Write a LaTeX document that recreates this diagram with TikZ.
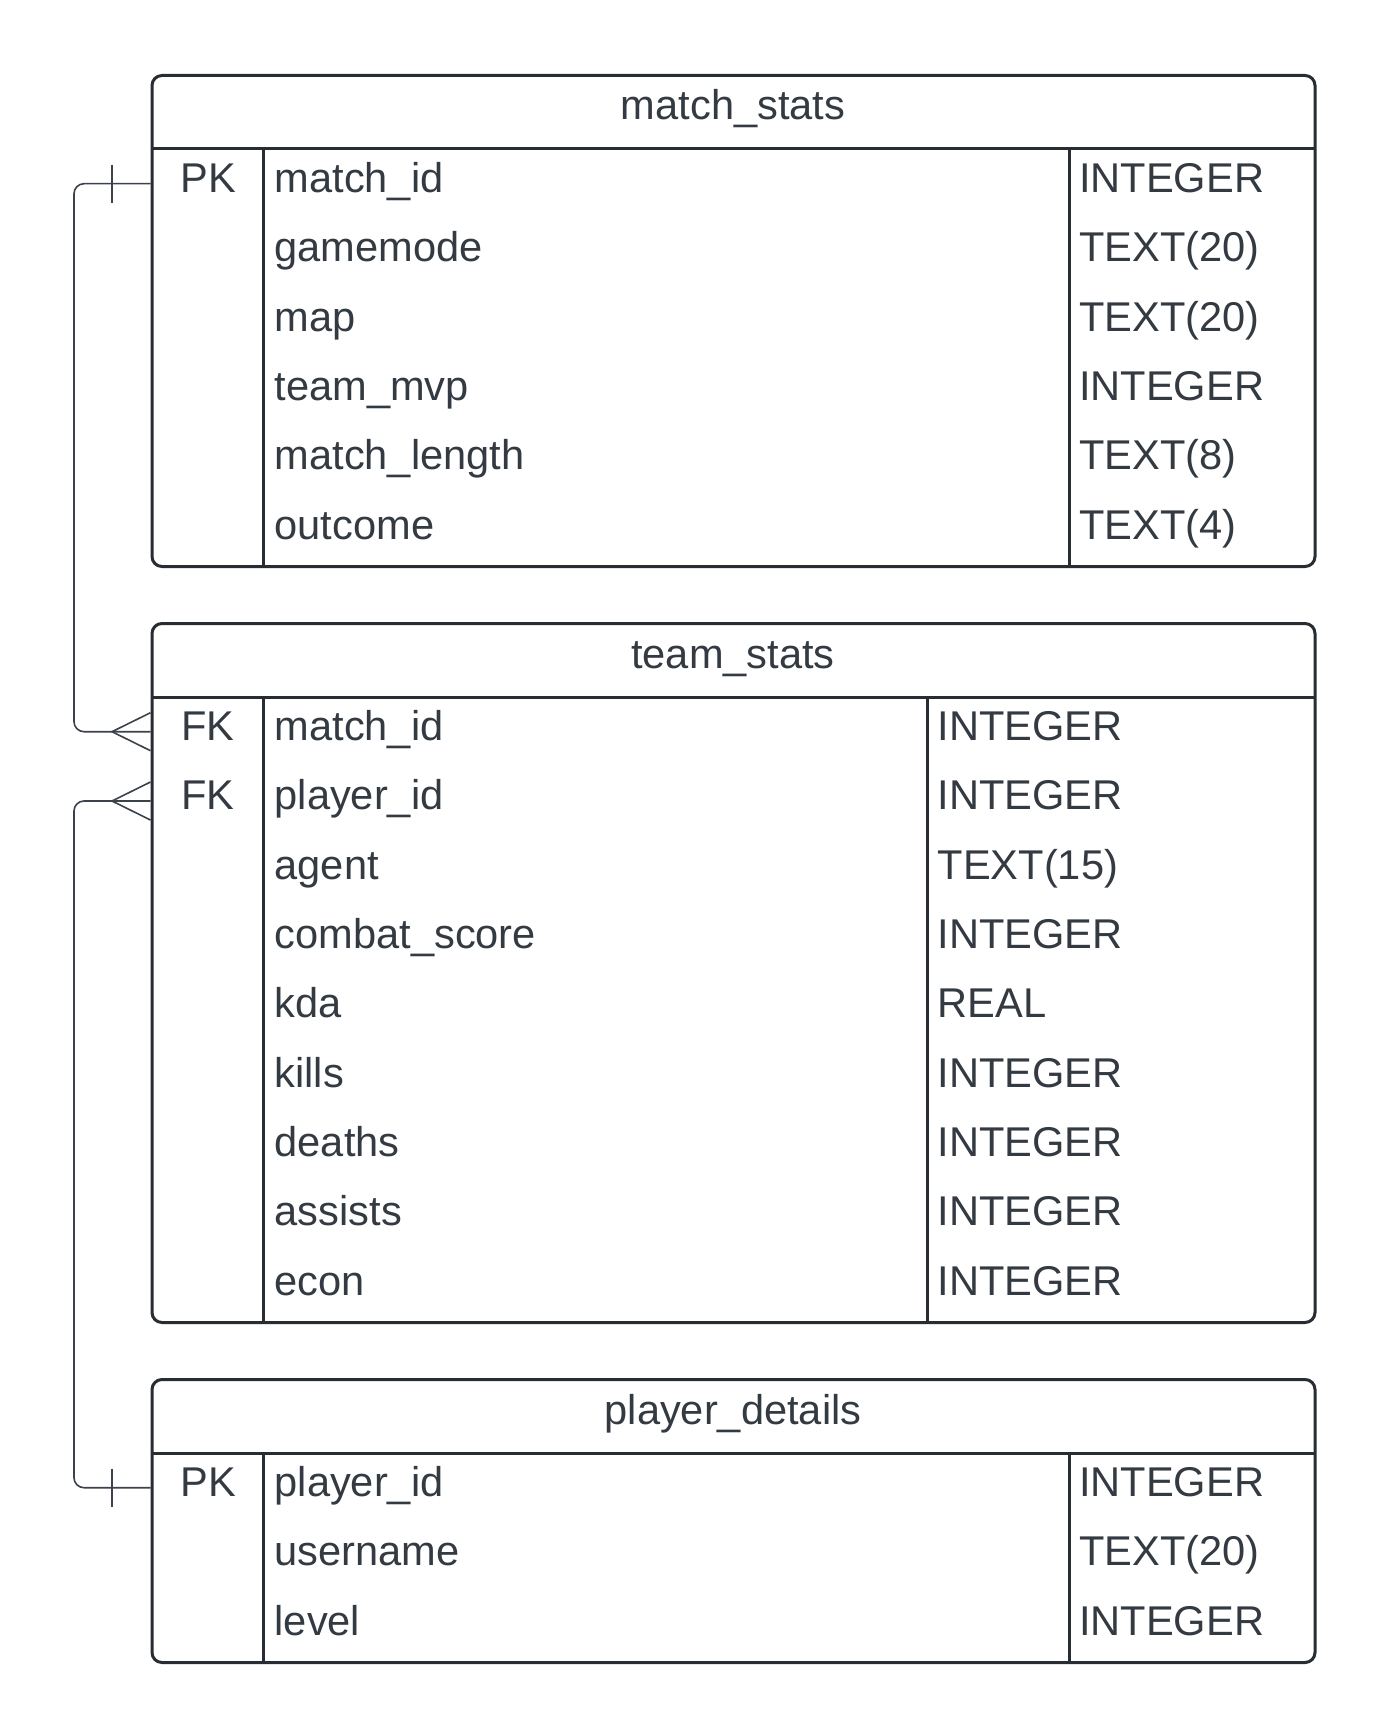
\documentclass[tikz,border=0pt]{standalone}
\usepackage{fontspec}
\setmainfont{Liberation Sans}
\definecolor{linec}{HTML}{282C33}
\definecolor{textc}{HTML}{343A42}
\definecolor{connc}{HTML}{3C424B}
\begin{document}
\begin{tikzpicture}[x=1pt,y=-1pt,
  tbox/.style={draw=linec, line width=3pt, rounded corners=10pt, fill=white},
  sep/.style={draw=linec, line width=3pt},
  txt/.style={text=textc, font=\fontsize{41.6}{48}\selectfont, inner sep=0pt},
  ttl/.style={txt, anchor=base},
  keyt/.style={txt, anchor=base},
  namet/.style={txt, anchor=base west},
  conn/.style={draw=connc, line width=1.6pt, rounded corners=10pt},
  cardmark/.style={draw=connc, line width=1.6pt}]
\useasboundingbox (0,0) rectangle (1389,1736);
\fill[white] (0,0) rectangle (1389,1736);

% ---------- match_stats ----------
\node[tbox, minimum width=1163pt, minimum height=491pt, anchor=north west, inner sep=0pt] (ms) at (150.5,74) {};
\draw[sep] (150.5,149) -- (1313.5,149);
\draw[sep] (263.5,149) -- (263.5,565);
\draw[sep] (1069,149) -- (1069,565);
\node[ttl] (ms-title) at (733,120) {match\_stats};
\foreach [count=\i] \n/\t in {match\_id/INTEGER, gamemode/TEXT(20), map/TEXT(20), team\_mvp/INTEGER, match\_length/TEXT(8), outcome/TEXT(4)}{
  \pgfmathsetmacro{\yb}{149+69.33*(\i-0.5)+8.7}
  \node[namet] (ms-n\i) at (274.5,\yb) {\n};
  \node[namet] (ms-t\i) at (1079,\yb) {\t};
}
\node[keyt] (ms-k1) at (208,183.7+8.7) {PK};
\coordinate (ms-pk) at (150.5,183.7);

% ---------- team_stats ----------
\node[tbox, minimum width=1163pt, minimum height=699pt, anchor=north west, inner sep=0pt] (ts) at (150.5,622) {};
\draw[sep] (150.5,697) -- (1313.5,697);
\draw[sep] (263.5,697) -- (263.5,1321);
\draw[sep] (927.5,697) -- (927.5,1321);
\node[ttl] (ts-title) at (733,668) {team\_stats};
\foreach [count=\i] \n/\t in {match\_id/INTEGER, player\_id/INTEGER, agent/TEXT(15), combat\_score/INTEGER, kda/REAL, kills/INTEGER, deaths/INTEGER, assists/INTEGER, econ/INTEGER}{
  \pgfmathsetmacro{\yb}{697+69.33*(\i-0.5)+8.7}
  \node[namet] (ts-n\i) at (274.5,\yb) {\n};
  \node[namet] (ts-t\i) at (937.5,\yb) {\t};
}
\node[keyt] (ts-k1) at (208,731.7+8.7) {FK};
\node[keyt] (ts-k2) at (208,801+8.7) {FK};
\coordinate (ts-fk1) at (150.5,731.7);
\coordinate (ts-fk2) at (150.5,801);

% ---------- player_details ----------
\node[tbox, minimum width=1163pt, minimum height=283pt, anchor=north west, inner sep=0pt] (pd) at (150.5,1378) {};
\draw[sep] (150.5,1453) -- (1313.5,1453);
\draw[sep] (263.5,1453) -- (263.5,1661);
\draw[sep] (1069,1453) -- (1069,1661);
\node[ttl] (pd-title) at (733,1424) {player\_details};
\foreach [count=\i] \n/\t in {player\_id/INTEGER, username/TEXT(20), level/INTEGER}{
  \pgfmathsetmacro{\yb}{1453+69.33*(\i-0.5)+8.7}
  \node[namet] (pd-n\i) at (274.5,\yb) {\n};
  \node[namet] (pd-t\i) at (1079,\yb) {\t};
}
\node[keyt] (pd-k1) at (208,1487.7+8.7) {PK};
\coordinate (pd-pk) at (150.5,1487.7);

% ---------- connectors ----------
\coordinate (busA) at (74,450);
\coordinate (busB) at (74,1100);
\draw[conn] (ms-pk) -| (busA) |- (ts-fk1);
\draw[conn] (ts-fk2) -| (busB) |- (pd-pk);
% one marks
\draw[cardmark] ([xshift=-38.5pt]ms-pk) ++(0,-19) -- ++(0,38);
\draw[cardmark] ([xshift=-38.5pt]pd-pk) ++(0,-19) -- ++(0,38);
% crow's feet
\draw[cardmark] ([yshift=19pt]ts-fk1) -- ([xshift=-38.5pt]ts-fk1) -- ([yshift=-19pt]ts-fk1);
\draw[cardmark] ([yshift=19pt]ts-fk2) -- ([xshift=-38.5pt]ts-fk2) -- ([yshift=-19pt]ts-fk2);
\end{tikzpicture}
\end{document}
